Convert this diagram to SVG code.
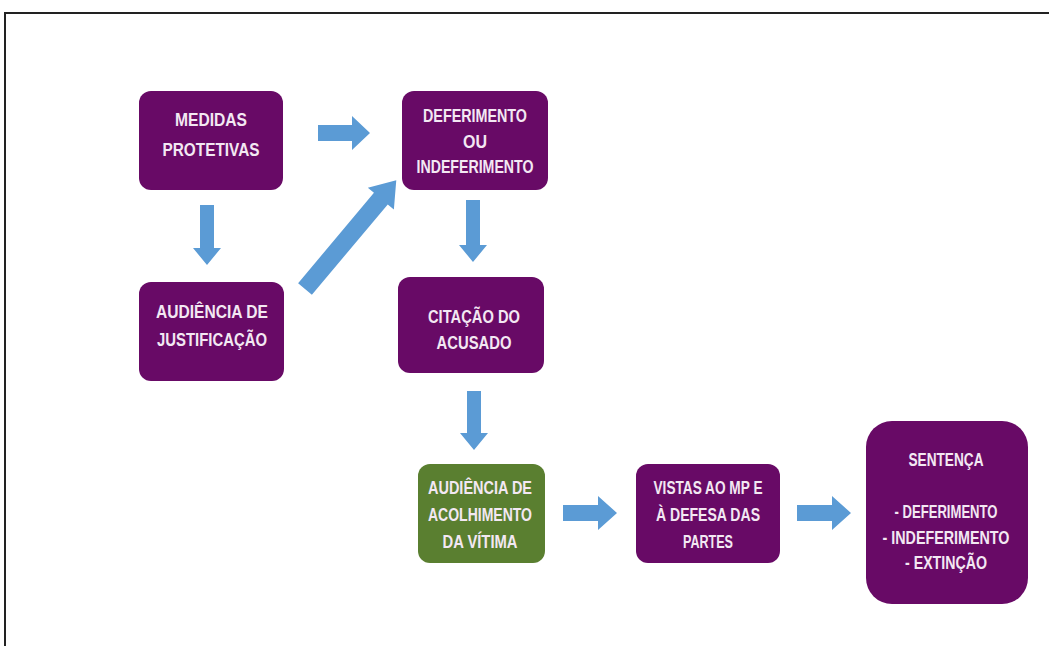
<svg xmlns="http://www.w3.org/2000/svg" width="1049" height="646" viewBox="0 0 1049 646">
<style>
.box{fill:#680a66}
.green{fill:#5a7f30}
.t{font-family:"Liberation Sans",Arial,sans-serif;font-weight:bold;font-size:19px;fill:#f3e8f3;text-anchor:middle}
.arr{fill:#5b9bd5}
</style>
<rect width="1049" height="646" fill="#ffffff"/>
<path d="M5,646 V13 H1049" fill="none" stroke="#222" stroke-width="2"/>
<g id="connectors">
<polygon class="arr" points="318,125 352,125 352,116 370,133 352,150 352,141 318,141"/>
<polygon class="arr" points="200,205 214,205 214,248 221,248 207,265 193,248 200,248"/>
<polygon class="arr" transform="translate(305,289) rotate(-50)" points="0,-9 118,-9 118,-17 142,0 118,17 118,9 0,9"/>
<polygon class="arr" points="466,200 480,200 480,245 487,245 473,262 459,245 466,245"/>
<polygon class="arr" points="467,391 481,391 481,433 488,433 474,450 460,433 467,433"/>
<polygon class="arr" points="563,505 598,505 598,496 617,513 598,530 598,521 563,521"/>
<polygon class="arr" points="797,505 832,505 832,496 851,513 832,530 832,521 797,521"/>
</g>
<g id="medidas">
<rect class="box" x="139" y="91" width="144" height="99" rx="12"/>
<text class="t" x="211" y="126" textLength="72" lengthAdjust="spacingAndGlyphs">MEDIDAS</text>
<text class="t" x="211" y="156" textLength="97" lengthAdjust="spacingAndGlyphs">PROTETIVAS</text>
</g>
<g id="deferimento">
<rect class="box" x="402" y="91" width="146" height="99" rx="12"/>
<text class="t" x="475" y="122" textLength="104" lengthAdjust="spacingAndGlyphs">DEFERIMENTO</text>
<text class="t" x="475" y="148" textLength="24" lengthAdjust="spacingAndGlyphs">OU</text>
<text class="t" x="475" y="173" textLength="117" lengthAdjust="spacingAndGlyphs">INDEFERIMENTO</text>
</g>
<g id="justificacao">
<rect class="box" x="139" y="282" width="145" height="99" rx="12"/>
<text class="t" x="212" y="318" textLength="112" lengthAdjust="spacingAndGlyphs">AUDIÊNCIA DE</text>
<text class="t" x="212" y="346" textLength="110" lengthAdjust="spacingAndGlyphs">JUSTIFICAÇÃO</text>
</g>
<g id="citacao">
<rect class="box" x="398" y="277" width="146" height="96" rx="12"/>
<text class="t" x="474" y="323" textLength="92" lengthAdjust="spacingAndGlyphs">CITAÇÃO DO</text>
<text class="t" x="474" y="349" textLength="75" lengthAdjust="spacingAndGlyphs">ACUSADO</text>
</g>
<g id="acolhimento">
<rect class="green" x="418" y="464" width="127" height="99" rx="12"/>
<text class="t" x="480" y="494" textLength="104" lengthAdjust="spacingAndGlyphs">AUDIÊNCIA DE</text>
<text class="t" x="480" y="521" textLength="104" lengthAdjust="spacingAndGlyphs">ACOLHIMENTO</text>
<text class="t" x="480" y="548" textLength="75" lengthAdjust="spacingAndGlyphs">DA VÍTIMA</text>
</g>
<g id="vistas">
<rect class="box" x="636" y="464" width="144" height="99" rx="12"/>
<text class="t" x="708" y="494" textLength="109" lengthAdjust="spacingAndGlyphs">VISTAS AO MP E</text>
<text class="t" x="708" y="521" textLength="104" lengthAdjust="spacingAndGlyphs">À DEFESA DAS</text>
<text class="t" x="708" y="548" textLength="50" lengthAdjust="spacingAndGlyphs">PARTES</text>
</g>
<g id="sentenca">
<rect class="box" x="866" y="421" width="162" height="183" rx="26"/>
<text class="t" x="946" y="466" textLength="75" lengthAdjust="spacingAndGlyphs">SENTENÇA</text>
<text class="t" x="946" y="518" textLength="103" lengthAdjust="spacingAndGlyphs">- DEFERIMENTO</text>
<text class="t" x="946" y="544" textLength="127" lengthAdjust="spacingAndGlyphs">- INDEFERIMENTO</text>
<text class="t" x="946" y="569" textLength="82" lengthAdjust="spacingAndGlyphs">- EXTINÇÃO</text>
</g>
</svg>
